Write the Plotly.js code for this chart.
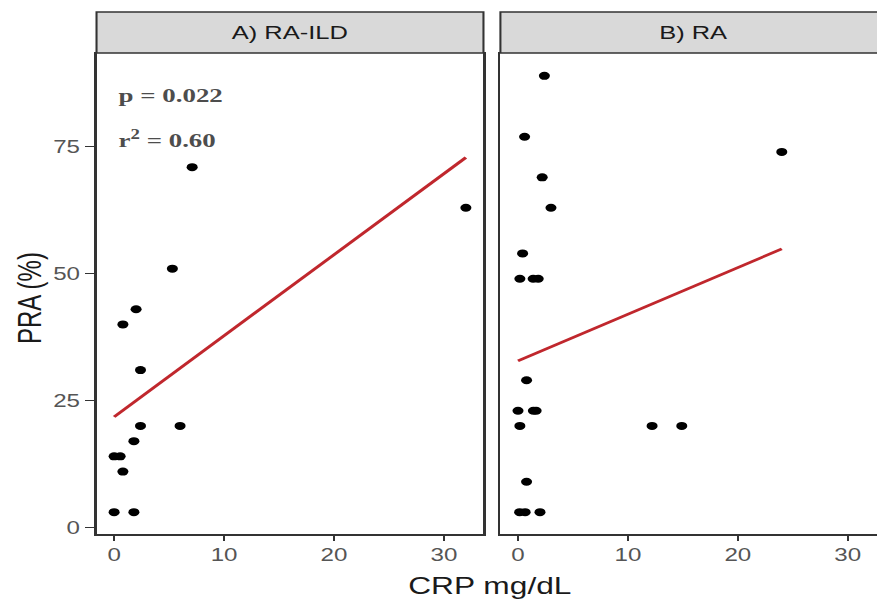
<!DOCTYPE html>
<html>
<head>
<meta charset="utf-8">
<script src="https://cdn.plot.ly/plotly-3.0.1.min.js"></script>
<style>
  html, body { margin: 0; padding: 0; background: #ffffff; }
  #wrap { width: 877px; height: 601px; overflow: hidden; position: relative; }
  #chart { width: 636px; height: 601px; transform: scaleX(1.3789); transform-origin: 0 0; }
</style>
</head>
<body>
<div id="wrap"><div id="chart"></div></div>
<script>
// Panel titles
const panelTitles = ["A) RA-ILD", "B) RA"];

// Panel A: RA-ILD (CRP mg/dL vs PRA %)
const crpA = [7.1, 32.0, 5.3, 2.0, 0.8, 2.4, 2.4, 6.0, 1.8, 0.0, 0.55, 0.8, 0.0, 1.8];
const praA = [71, 63, 51, 43, 40, 31, 20, 20, 17, 14, 14, 11, 3, 3];

// Panel B: RA
const crpB = [2.4, 0.6, 24.0, 2.2, 3.0, 0.42, 0.17, 1.38, 1.84, 0.78, 0.0, 1.4, 1.65, 0.17, 12.2, 14.9, 0.78, 0.15, 0.65, 2.0];
const praB = [89, 77, 74, 69, 63, 54, 49, 49, 49, 29, 23, 23, 23, 20, 20, 20, 9, 3, 3, 3];

// Fitted regression lines (end points)
const fitAx = [0, 32.0];
const fitAy = [21.8, 72.9];
const fitBx = [0, 24.0];
const fitBy = [32.8, 54.9];

// Statistics text
const statP = "p = 0.022";
const statR = "r<sup>2</sup> = 0.60";

// Axis ticks and titles
const xTicks = [0, 10, 20, 30];
const yTicks = [0, 25, 50, 75];
const xTitle = "CRP mg/dL";
const yTitle = "PRA (%)";

const pointStyle = { color: "#000000", size: 8 };
const lineStyle = { color: "#c0272d", width: 2.6 };

const traces = [
  { x: crpA, y: praA, type: "scatter", mode: "markers", marker: pointStyle, xaxis: "x", yaxis: "y", hoverinfo: "none" },
  { x: fitAx, y: fitAy, type: "scatter", mode: "lines", line: lineStyle, xaxis: "x", yaxis: "y", hoverinfo: "none" },
  { x: crpB, y: praB, type: "scatter", mode: "markers", marker: pointStyle, xaxis: "x2", yaxis: "y2", hoverinfo: "none" },
  { x: fitBx, y: fitBy, type: "scatter", mode: "lines", line: lineStyle, xaxis: "x2", yaxis: "y2", hoverinfo: "none" }
];

const tickFont = { family: "Liberation Sans, Arial, sans-serif", size: 17.5, color: "#555555" };
const axisCommon = {
  showgrid: false, zeroline: false, showline: true, linecolor: "#333333", linewidth: 1.5,
  ticks: "outside", tickcolor: "#333333", tickwidth: 1.2, tickfont: tickFont
};

const leftEnd = 0.4958, rightStart = 0.5175;

const layout = {
  width: 636, height: 601,
  margin: { l: 70, r: 0, t: 53, b: 67, pad: 0 },
  paper_bgcolor: "#ffffff", plot_bgcolor: "#ffffff",
  showlegend: false,
  xaxis: Object.assign({}, axisCommon, { domain: [0, leftEnd], range: [-1.6, 33.6], tickvals: xTicks, ticklen: 5, mirror: true, anchor: "y" }),
  yaxis: Object.assign({}, axisCommon, { domain: [0, 1], range: [-1.3, 93.5], tickvals: yTicks, ticklen: 7, mirror: true, anchor: "x" }),
  xaxis2: Object.assign({}, axisCommon, { domain: [rightStart, 1], range: [-1.6, 32.66], tickvals: xTicks, ticklen: 5, mirror: true, anchor: "y2" }),
  yaxis2: Object.assign({}, axisCommon, { domain: [0, 1], range: [-1.3, 93.5], tickvals: yTicks, ticks: "", showticklabels: false, mirror: false, anchor: "x2" }),
  shapes: [
    { type: "rect", xref: "paper", yref: "paper", x0: 0, x1: leftEnd, y0: 1, y1: 1.0852, fillcolor: "#d9d9d9", line: { color: "#333333", width: 1.5 } },
    { type: "rect", xref: "paper", yref: "paper", x0: rightStart, x1: 1.05, y0: 1, y1: 1.0852, fillcolor: "#d9d9d9", line: { color: "#333333", width: 1.5 } }
  ],
  annotations: [
    { text: panelTitles[0], xref: "paper", yref: "paper", x: leftEnd / 2, y: 1.0426, xanchor: "center", yanchor: "middle", showarrow: false,
      font: { family: "Liberation Sans, Arial, sans-serif", size: 18.5, color: "#1a1a1a" } },
    { text: panelTitles[1], xref: "paper", yref: "paper", x: 0.7647, y: 1.0426, xanchor: "center", yanchor: "middle", showarrow: false,
      font: { family: "Liberation Sans, Arial, sans-serif", size: 18.5, color: "#1a1a1a" } },
    { text: "<b>" + statP + "</b>", xref: "x", yref: "y", x: 0.2, y: 85.2, xanchor: "left", yanchor: "middle", showarrow: false,
      font: { family: "Liberation Serif, Times New Roman, serif", size: 19.5, color: "#4d4d4d" } },
    { text: "<b>" + statR + "</b>", xref: "x", yref: "y", x: 0.2, y: 76.5, xanchor: "left", yanchor: "middle", showarrow: false,
      font: { family: "Liberation Serif, Times New Roman, serif", size: 19.5, color: "#4d4d4d" } },
    { text: xTitle, xref: "paper", yref: "paper", x: 0.505, y: -0.108, xanchor: "center", yanchor: "middle", showarrow: false,
      font: { family: "Liberation Sans, Arial, sans-serif", size: 23, color: "#1a1a1a" } },
    { text: yTitle, xref: "paper", yref: "paper", x: -0.087, y: 0.49, xanchor: "center", yanchor: "middle", textangle: -90, showarrow: false,
      font: { family: "Liberation Sans, Arial, sans-serif", size: 24, color: "#1a1a1a" } }
  ]
};

Plotly.newPlot("chart", traces, layout, { staticPlot: true, displayModeBar: false });
</script>
</body>
</html>
